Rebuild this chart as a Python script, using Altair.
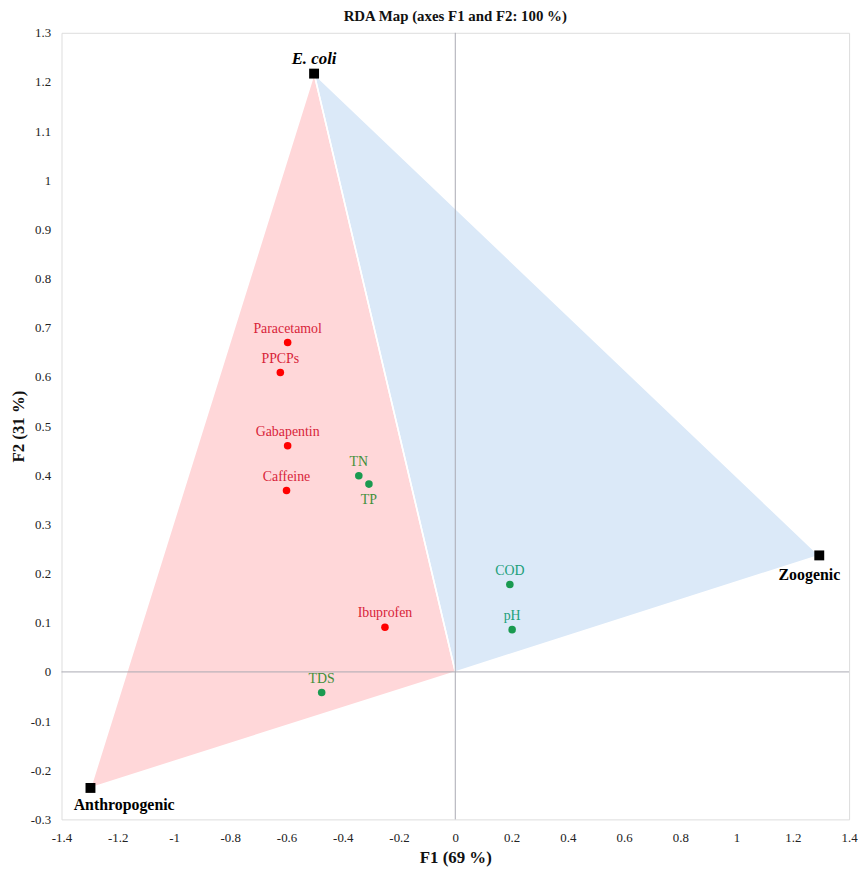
import altair as alt
import pandas as pd

# ---- data ----
var_names = ["Paracetamol", "PPCPs", "Gabapentin", "Caffeine", "Ibuprofen",
             "TN", "TP", "COD", "pH", "TDS"]
var_f1 = [-0.596, -0.622, -0.596, -0.600, -0.250, -0.343, -0.307, 0.194, 0.202, -0.475]
var_f2 = [0.670, 0.609, 0.460, 0.369, 0.091, 0.399, 0.382, 0.178, 0.086, -0.042]
var_group = ["ppcp"] * 5 + ["wq"] * 5

src_names = ["E. coli", "Zoogenic", "Anthropogenic"]
src_f1 = [-0.502, 1.294, -1.297]
src_f2 = [1.217, 0.237, -0.236]

x_ticks = [-1.4, -1.2, -1, -0.8, -0.6, -0.4, -0.2, 0, 0.2, 0.4, 0.6, 0.8, 1, 1.2, 1.4]
y_ticks = [-0.3, -0.2, -0.1, 0, 0.1, 0.2, 0.3, 0.4, 0.5, 0.6, 0.7, 0.8, 0.9, 1, 1.1, 1.2, 1.3]

# ---- tables ----
pts = pd.DataFrame({"name": var_names, "F1": var_f1, "F2": var_f2, "group": var_group})
src = pd.DataFrame({"name": src_names, "F1": src_f1, "F2": src_f2})

sd = dict(zip(src_names, zip(src_f1, src_f2)))
poly_rows = []
for tri, corner in [("red", "Anthropogenic"), ("blue", "Zoogenic")]:
    verts = [sd["E. coli"], sd[corner], (0.0, 0.0), sd["E. coli"]]
    for i, (a, b) in enumerate(verts):
        poly_rows.append({"tri": tri, "order": i, "F1": a, "F2": b})
poly = pd.DataFrame(poly_rows)

FONT = "Liberation Serif"

xs = alt.Scale(domain=[-1.4, 1.4], nice=False, zero=False)
ys = alt.Scale(domain=[-0.3, 1.3], nice=False, zero=False)

xax = alt.Axis(values=x_ticks, labelExpr="'' + datum.value", ticks=False, domain=False, grid=False,
               labelFlush=False, labelOverlap=False,
               labelPadding=12, labelFontSize=13, labelFont=FONT, labelColor="#222",
               title="F1 (69 %)", titleFont=FONT, titleFontSize=17, titleFontWeight="bold",
               titleColor="#111", titlePadding=5)
yax = alt.Axis(values=y_ticks, labelExpr="'' + datum.value", ticks=False, domain=False, grid=False,
               labelFlush=False, labelOverlap=False,
               labelPadding=11, labelFontSize=13, labelFont=FONT, labelColor="#222",
               title="F2 (31 %)", titleFont=FONT, titleFontSize=17, titleFontWeight="bold",
               titleColor="#111", titlePadding=3)

polys = alt.Chart(poly).mark_line(strokeOpacity=0).encode(
    x=alt.X("F1:Q", scale=xs, axis=xax),
    y=alt.Y("F2:Q", scale=ys, axis=yax),
    order="order:Q", detail="tri:N",
    fill=alt.Fill("tri:N", scale=alt.Scale(domain=["red", "blue"], range=["#ffd7d9", "#dbe9f8"]),
                  legend=None),
)
seams = alt.Chart(poly).mark_line(color="white", strokeWidth=1.6).encode(
    x="F1:Q", y="F2:Q", order="order:Q", detail="tri:N")

zero = pd.DataFrame({"v": [0.0]})
vline = alt.Chart(zero).mark_rule(color="#a9a9b2", strokeWidth=1).encode(x="v:Q")
hline = alt.Chart(zero).mark_rule(color="#a9a9b2", strokeWidth=1).encode(y="v:Q")

dots = alt.Chart(pts).mark_circle(size=58, opacity=1).encode(
    x="F1:Q", y="F2:Q",
    color=alt.Color("group:N", scale=alt.Scale(domain=["ppcp", "wq"], range=["#ff0000", "#1a9a50"]),
                    legend=None),
)

label_color = alt.Color("name:N", legend=None, scale=alt.Scale(
    domain=var_names,
    range=["#d8243a"] * 5 + ["#3f8f3a", "#3f8f3a", "#20a07a", "#20a07a", "#3f8f3a"]))

labels_above = alt.Chart(pts).mark_text(font=FONT, fontSize=14, dy=-10, baseline="alphabetic").encode(
    x="F1:Q", y="F2:Q", text="name:N", color=label_color,
).transform_filter(alt.datum.name != "TP")

labels_below = alt.Chart(pts).mark_text(font=FONT, fontSize=14, dy=20, baseline="alphabetic").encode(
    x="F1:Q", y="F2:Q", text="name:N", color=label_color,
).transform_filter(alt.datum.name == "TP")

squares = alt.Chart(src).mark_square(size=100, color="black", opacity=1).encode(x="F1:Q", y="F2:Q")

ecoli_lab = alt.Chart(src).mark_text(font=FONT, fontSize=17, fontWeight="bold", fontStyle="italic",
                                     dy=-10, baseline="alphabetic", color="black").encode(
    x="F1:Q", y="F2:Q", text="name:N").transform_filter(alt.datum.name == "E. coli")
zoo_lab = alt.Chart(src).mark_text(font=FONT, fontSize=16, fontWeight="bold",
                                   dx=-10, dy=25, baseline="alphabetic", color="black").encode(
    x="F1:Q", y="F2:Q", text="name:N").transform_filter(alt.datum.name == "Zoogenic")
anth_lab = alt.Chart(src).mark_text(font=FONT, fontSize=16, fontWeight="bold",
                                    dx=34, dy=22, baseline="alphabetic", color="black").encode(
    x="F1:Q", y="F2:Q", text="name:N").transform_filter(alt.datum.name == "Anthropogenic")

chart = alt.layer(
    polys, seams, vline, hline, dots, labels_above, labels_below, squares, ecoli_lab, zoo_lab, anth_lab
).resolve_scale(color="independent").properties(
    width=795, height=794,
    autosize=alt.AutoSizeParams(type="none"),
    padding={"left": 54, "top": 21, "right": 9, "bottom": 44},
    title=alt.TitleParams("RDA Map (axes F1 and F2: 100 %)", font=FONT, fontSize=15,
                          fontWeight="bold", color="#111", offset=3),
).configure_view(stroke="#b5b5b5", strokeWidth=1.3).configure(background="white")

chart.save("out.html", embed_options={"renderer": "svg", "actions": False})
